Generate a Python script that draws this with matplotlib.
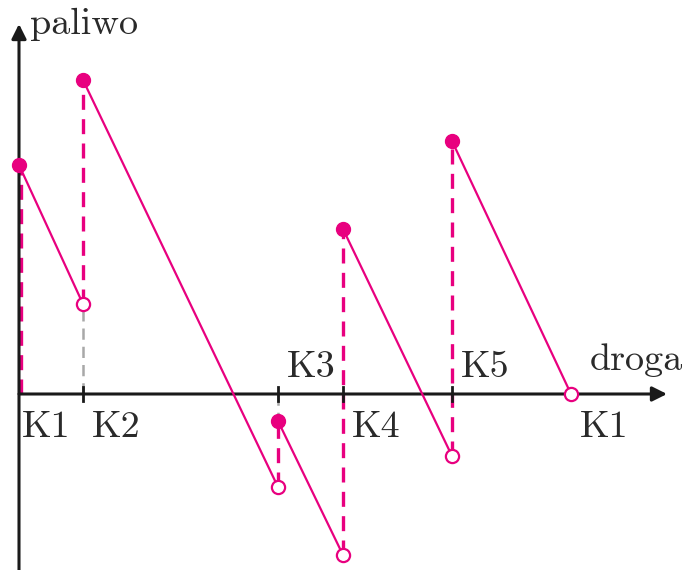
import matplotlib
matplotlib.use("Agg")
import matplotlib.pyplot as plt

# ── data ──────────────────────────────────────────────────────────────────────
station_names = ["K1", "K2", "K3", "K4", "K5", "K1"]
station_x     = [0.0, 6.4, 25.9, 32.4, 43.3, 55.2]   # droga
fuel_after    = [22.9, 31.4, -2.7, 16.5, 25.3]        # po tankowaniu (K1..K5)
fuel_before   = [9.0, -9.3, -16.1, -6.2, 0.0]         # przy dojeździe (K2..K1)
label_above   = [False, False, True, False, True, False]

PINK = "#E8007F"
GREY = "#A8A8A8"
AXC  = "#1A1A1A"
TXT  = "#2A2A2A"
FONT = "cmr10"
FS   = 27.5

fig = plt.figure(figsize=(6.84, 5.70), dpi=100)
ax = fig.add_axes([0, 0, 1, 1])
ax.set_xlim(-1.9, 66.5)
ax.set_ylim(-17.6, 39.4)
ax.axis("off")

# axes with arrow heads
ax.annotate("", xy=(64.8, 0), xytext=(0, 0),
            arrowprops=dict(arrowstyle="-|>", color=AXC, lw=2.2,
                            mutation_scale=22, shrinkA=0, shrinkB=0))
ax.annotate("", xy=(0, 37.0), xytext=(0, -17.6),
            arrowprops=dict(arrowstyle="-|>", color=AXC, lw=2.2,
                            mutation_scale=22, shrinkA=0, shrinkB=0))

# ticks at the stations
for x in station_x[1:5]:
    ax.plot([x, x], [-0.7, 0.7], color=AXC, lw=2.0, zorder=3)

dash = (0, (4.5, 2.8))

# refuelling jumps (dashed vertical), grey guide down/up to the axis
for i, y_top in enumerate(fuel_after):
    x = station_x[i]
    xd = x + 0.2 if i == 0 else x
    y_low = 0.0 if i == 0 else fuel_before[i - 1]
    ax.plot([xd, xd], [y_low, y_top], color=PINK, lw=2.4, linestyle=dash, zorder=2)
    if i > 0 and y_low > 0:
        ax.plot([x, x], [0, y_low], color=GREY, lw=1.8, linestyle=dash, zorder=1)
    if i > 0 and y_top < 0:
        ax.plot([x, x], [0, y_top], color=GREY, lw=1.8, linestyle=dash, zorder=1)

# fuel consumption between stations
for i in range(5):
    xs = [station_x[i], station_x[i + 1]]
    ys = [fuel_after[i], fuel_before[i]]
    ax.plot(xs, ys, color=PINK, lw=1.6, zorder=4)
    ax.plot(xs[0], ys[0], "o", color=PINK, ms=10, zorder=5)
    ax.plot(xs[1], ys[1], "o", mfc="white", mec=PINK, mew=1.6, ms=9.5, zorder=5)

# station labels
for name, x, above in zip(station_names, station_x, label_above):
    dx = 0.3 if x == 0 else 0.9
    ax.text(x + dx, 1.7 if above else -4.3, name, fontsize=FS,
            family=FONT, color=TXT, ha="left", va="baseline")

ax.text(1.1, 36.0, "paliwo", fontsize=FS, family=FONT, color=TXT,
        ha="left", va="baseline")
ax.text(57.1, 2.4, "droga", fontsize=FS, family=FONT, color=TXT,
        ha="left", va="baseline")

fig.savefig("out.png", dpi=100)
